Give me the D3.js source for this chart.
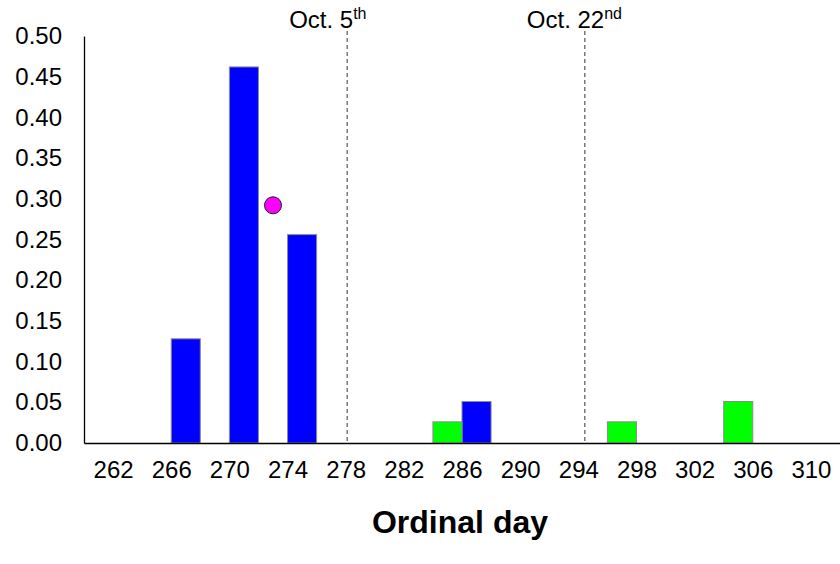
<!DOCTYPE html>
<html>
<head>
<meta charset="utf-8">
<script src="https://cdn.jsdelivr.net/npm/d3@7"></script>
<style>
  html, body { margin: 0; padding: 0; background: #fff; }
  svg { display: block; font-family: "Liberation Sans", Arial, sans-serif; }
</style>
</head>
<body>
<svg id="chart" width="840" height="564"></svg>
<script>
// ---- data ----
const blueDays   = [267, 271, 275, 287];
const blueValues = [0.128, 0.462, 0.256, 0.051];
const greenDays   = [285, 297, 305];
const greenValues = [0.026, 0.026, 0.051];
const pointDays   = [273];
const pointValues = [0.292];
const xTickValues = [262, 266, 270, 274, 278, 282, 286, 290, 294, 298, 302, 306, 310];
const yTickValues = [0, 0.05, 0.10, 0.15, 0.20, 0.25, 0.30, 0.35, 0.40, 0.45, 0.50];
const markerDays  = [278.1, 294.45];
const markerLabels = [["Oct. 5", "th"], ["Oct. 22", "nd"]];
const xTitle = "Ordinal day";
const binWidth = 2;

const svg = d3.select("#chart");
const x = d3.scaleLinear().domain([260, 312]).range([84, 840]);
const y = d3.scaleLinear().domain([0, 0.5]).range([443, 36]);

// bars
function drawBars(days, vals, color) {
  svg.append("g").selectAll("rect").data(days.map((d, i) => ({d, v: vals[i]})))
    .join("rect")
    .attr("x", p => x(p.d - binWidth / 2))
    .attr("width", p => x(p.d + binWidth / 2) - x(p.d - binWidth / 2))
    .attr("y", p => y(p.v))
    .attr("height", p => y(0) - y(p.v))
    .attr("fill", color)
    .attr("stroke", "#8c8c8c")
    .attr("stroke-width", 1);
}
drawBars(blueDays, blueValues, "#0000ff");
drawBars(greenDays, greenValues, "#00ff00");

// dashed marker lines
svg.append("g").selectAll("line").data(markerDays).join("line")
  .attr("x1", d => x(d)).attr("x2", d => x(d))
  .attr("y1", 31).attr("y2", y(0))
  .attr("stroke", "#333").attr("stroke-width", 1)
  .attr("stroke-dasharray", "4,3");

// marker labels
const lab = svg.append("g").selectAll("text").data(markerDays).join("text")
  .attr("x", (d, i) => x(d) - 58)
  .attr("y", 28)
  .attr("font-size", 24)
  .attr("fill", "#000");
lab.append("tspan").text((d, i) => markerLabels[i][0]);
lab.append("tspan").attr("dy", -9).attr("font-size", 16).text((d, i) => markerLabels[i][1]);

// point
svg.append("g").selectAll("circle").data(pointDays).join("circle")
  .attr("cx", (d) => x(d))
  .attr("cy", (d, i) => y(pointValues[i]))
  .attr("r", 8.5)
  .attr("fill", "#ff00ff")
  .attr("stroke", "#222")
  .attr("stroke-width", 1);

// axes
const xAxis = d3.axisBottom(x).tickValues(xTickValues).tickSize(0).tickPadding(18).tickFormat(d3.format("d"));
const gx = svg.append("g").attr("transform", `translate(0,${y(0)})`).call(xAxis);
gx.select(".domain").attr("stroke", "#000").attr("stroke-width", 1.3);
gx.selectAll("text").attr("font-size", 24).attr("fill", "#000")
  .attr("font-family", "Liberation Sans, Arial, sans-serif");

const yAxis = d3.axisLeft(y).tickValues(yTickValues).tickSize(0).tickPadding(22).tickFormat(d3.format(".2f"));
const gy = svg.append("g").attr("transform", `translate(84,0)`).call(yAxis);
gy.select(".domain").attr("stroke", "#000").attr("stroke-width", 1.3);
gy.selectAll("text").attr("font-size", 24).attr("fill", "#000")
  .attr("font-family", "Liberation Sans, Arial, sans-serif");

// axis title
svg.append("text")
  .attr("x", 460).attr("y", 533)
  .attr("text-anchor", "middle")
  .attr("font-size", 32).attr("font-weight", "bold")
  .text(xTitle);
</script>
</body>
</html>
